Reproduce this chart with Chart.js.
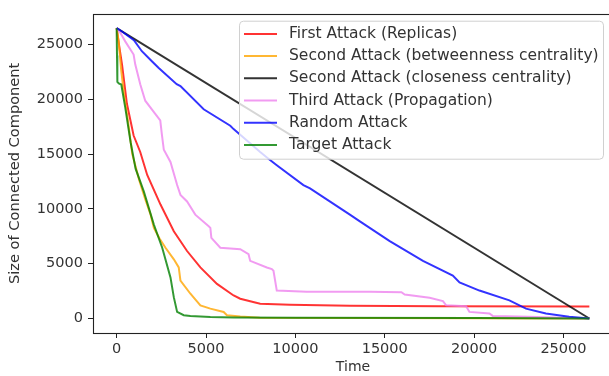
<!DOCTYPE html>
<html><head><meta charset="utf-8">
<script src="https://cdn.jsdelivr.net/npm/chart.js@4/dist/chart.umd.min.js"></script>
<style>html,body{margin:0;padding:0;overflow:hidden;background:#fff;width:609px;height:376px}canvas{display:block}</style>
</head><body><canvas id="c" width="620" height="376"></canvas>
<script>
const seriesLabels = [
  "First Attack (Replicas)",
  "Second Attack (betweenness centrality)",
  "Second Attack (closeness centrality)",
  "Third Attack (Propagation)",
  "Random Attack",
  "Target Attack"
];
const xTicks = [0, 5000, 10000, 15000, 20000, 25000];
const yTicks = [0, 5000, 10000, 15000, 20000, 25000];

const replicasX = [0, 150, 300, 575, 950, 1320, 1710, 2454, 3198, 3940, 4685, 5614, 6544, 6916, 8031, 9700, 13050, 18000, 26450];
const replicasY = [26500, 24800, 23200, 19600, 16700, 15200, 13100, 10400, 7970, 6160, 4660, 3160, 2100, 1800, 1354, 1260, 1170, 1120, 1100];

const betweenX = [0, 50, 110, 260, 420, 620, 875, 1250, 1600, 1900, 2082, 2400, 2733, 3200, 3475, 3570, 4127, 4685, 5243, 5986, 6172, 6916, 8000, 26450];
const betweenY = [26500, 26000, 25300, 22590, 20400, 18200, 15000, 12700, 10900, 9480, 8270, 7300, 6460, 5400, 4660, 3460, 2260, 1200, 900, 600, 300, 180, 60, 0];

const closenessX = [0, 26450];
const closenessY = [26500, 0];

const propagationX = [0, 200, 480, 950, 1040, 1320, 1600, 2160, 2440, 2530, 2640, 3012, 3385, 3570, 3940, 4400, 5150, 5243, 5300, 5800, 6916, 7380, 7473, 8404, 8683, 8776, 8960, 10636, 14166, 15935, 16118, 17512, 18255, 18440, 19555, 19740, 20860, 21043, 23000, 26450];
const propagationY = [26500, 26100, 25300, 24100, 23200, 21390, 19880, 18680, 18080, 16800, 15400, 14290, 12180, 11280, 10680, 9480, 8420, 8270, 7360, 6460, 6320, 5870, 5260, 4660, 4510, 4360, 2550, 2450, 2450, 2400, 2190, 1895, 1590, 1200, 1110, 600, 450, 235, 150, 0];

const randomX = [0, 300, 967, 1410, 1970, 2340, 3360, 3570, 4870, 6358, 6544, 8031, 8494, 8960, 10450, 10820, 13050, 13610, 15280, 17140, 18810, 19185, 20300, 21975, 22905, 24020, 25320, 26450];
const randomY = [26500, 26200, 25410, 24400, 23490, 22890, 21390, 21210, 19100, 17600, 17290, 15190, 14580, 13990, 12180, 11880, 9480, 8870, 7070, 5260, 3910, 3300, 2550, 1650, 900, 450, 150, 0];

const targetX = [0, 20, 40, 120, 260, 480, 780, 1060, 1523, 2082, 2550, 3012, 3198, 3384, 3755, 4127, 5243, 6546, 10000, 20000, 26450];
const targetY = [26500, 24000, 21600, 21450, 21360, 19280, 16100, 13680, 11580, 8570, 6460, 3750, 1950, 600, 300, 235, 145, 100, 60, 50, 0];

const seriesColors = ["rgba(255,0,0,0.8)", "rgba(255,165,0,0.8)", "rgba(0,0,0,0.8)", "rgba(238,130,238,0.8)", "rgba(0,0,255,0.8)", "rgba(0,128,0,0.8)"];

const zip = (xs, ys) => xs.map((x, i) => ({x: x, y: ys[i]}));
const allX = [replicasX, betweenX, closenessX, propagationX, randomX, targetX];
const allY = [replicasY, betweenY, closenessY, propagationY, randomY, targetY];

const datasets = seriesLabels.map((lab, i) => ({
  label: lab,
  data: zip(allX[i], allY[i]),
  borderColor: seriesColors[i],
  backgroundColor: seriesColors[i],
  borderWidth: 2,
  pointRadius: 0,
  tension: 0,
  fill: false,
  order: seriesLabels.length - i
}));

const FONT = '"DejaVu Sans", sans-serif';
const TXT = '#333';

const framePlugin = {
  id: 'frame',
  afterDraw(chart) {
    const a = chart.chartArea, ctx = chart.ctx;
    ctx.save();
    ctx.strokeStyle = '#222';
    ctx.lineWidth = 1.1;
    ctx.strokeRect(Math.round(a.left) + 0.5, Math.round(a.top) + 0.5, Math.round(a.right - a.left), Math.round(a.bottom - a.top));
    ctx.restore();
  }
};

const legendPlugin = {
  id: 'mplLegend',
  afterDatasetsDraw(chart) {
    const ctx = chart.ctx;
    const a = chart.chartArea;
    const w = 364, h = 138;
    const x0 = a.right - 10 - w, y0 = a.top + 7;
    ctx.save();
    ctx.beginPath();
    ctx.roundRect(x0 + 0.5, y0 + 0.5, w, h, 4);
    ctx.fillStyle = 'rgba(255,255,255,0.8)';
    ctx.fill();
    ctx.strokeStyle = '#d0d0d0';
    ctx.lineWidth = 1;
    ctx.stroke();
    chart.data.datasets.forEach((ds, i) => {
      const y = y0 + 13.2 + i * 22.2;
      ctx.strokeStyle = ds.borderColor;
      ctx.lineWidth = 2;
      ctx.beginPath();
      ctx.moveTo(x0 + 5, y);
      ctx.lineTo(x0 + 38, y);
      ctx.stroke();
      ctx.fillStyle = TXT;
      ctx.font = '15.5px ' + FONT;
      ctx.textBaseline = 'middle';
      ctx.textAlign = 'left';
      ctx.fillText(ds.label, x0 + 50, y);
    });
    ctx.restore();
  }
};

const plainTick = v => String(v);

new Chart(document.getElementById('c'), {
  type: 'line',
  data: {datasets: datasets},
  options: {
    responsive: false,
    animation: false,
    devicePixelRatio: 1,
    layout: {padding: {left: 0, right: 7, top: 10, bottom: 0}},
    plugins: {legend: {display: false}, tooltip: {enabled: false}},
    scales: {
      x: {
        type: 'linear',
        min: -1323, max: 27773,
        afterFit: s => { s.height = 43; },
        afterBuildTicks: s => { s.ticks = xTicks.map(v => ({value: v})); },
        grid: {drawOnChartArea: false, drawTicks: true, tickLength: 5, color: '#222'},
        border: {display: false},
        ticks: {font: {family: FONT, size: 14.5}, color: TXT, padding: 3, maxRotation: 0, autoSkip: false, callback: plainTick},
        title: {display: true, text: 'Time', font: {family: FONT, size: 14}, color: TXT, padding: {top: 0, bottom: 0}}
      },
      y: {
        type: 'linear',
        min: -1325, max: 27825,
        afterFit: s => { s.width = 93; },
        afterBuildTicks: s => { s.ticks = yTicks.map(v => ({value: v})); },
        grid: {drawOnChartArea: false, drawTicks: true, tickLength: 5, color: '#222'},
        border: {display: false},
        ticks: {font: {family: FONT, size: 14.5}, color: TXT, padding: 5, autoSkip: false, callback: plainTick},
        title: {display: true, text: 'Size of Connected Component', font: {family: FONT, size: 14.6}, color: TXT, padding: {top: 6, bottom: 0}}
      }
    }
  },
  plugins: [legendPlugin, framePlugin]
});
</script>
</body></html>
